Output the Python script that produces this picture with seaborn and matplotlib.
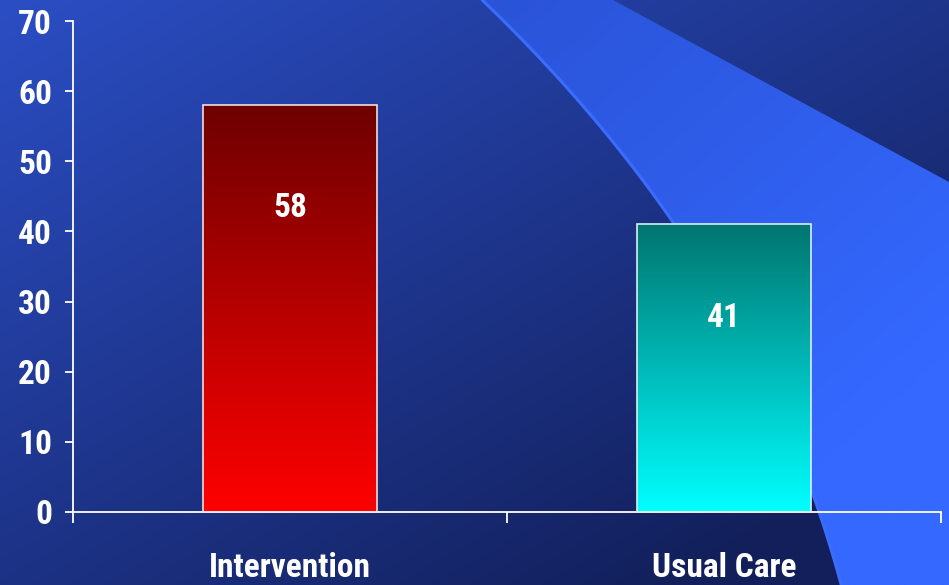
import numpy as np
import pandas as pd
import matplotlib
matplotlib.use("Agg")
import matplotlib.pyplot as plt
import seaborn as sns
from matplotlib.colors import LinearSegmentedColormap, to_rgb
from matplotlib.patches import Polygon
from matplotlib import font_manager

# ---- data ----
categories = ["Intervention", "Usual Care"]
values = [58, 41]
value_labels = ["58", "41"]
y_ticks = [0, 10, 20, 30, 40, 50, 60, 70]

sns.set_theme(style="white")
names = {f.name for f in font_manager.fontManager.ttflist}
fam = [f for f in ["Liberation Sans Narrow", "Roboto Condensed", "DejaVu Sans Condensed", "Liberation Sans", "DejaVu Sans"] if f in names]
plt.rcParams["font.family"] = fam

W, H = 949, 585
fig = plt.figure(figsize=(W / 100, H / 100), dpi=100)

# ---- background ----
bg = fig.add_axes([0, 0, 1, 1], zorder=0)
bg.set_xlim(0, W)
bg.set_ylim(H, 0)
bg.axis("off")
xx, yy = np.meshgrid(np.linspace(0, 1, 200), np.linspace(0, 1, 200))
t = np.clip(0.55 * xx + 0.6 * yy, 0, 1)
c0, c1 = np.array(to_rgb("#2b4ec4")), np.array(to_rgb("#121f5a"))
img = c0[None, None, :] * (1 - t[..., None]) + c1[None, None, :] * t[..., None]
bg.imshow(img, extent=[0, W, H, 0], aspect="auto", zorder=0)

# smooth decorative curve
ky = np.array([0, 100, 167, 223, 493, 585])
kx = np.array([482, 578, 634, 672, 813, 841])
coef = np.polyfit(ky, kx, 3)
cy = np.linspace(0, H, 120)
cx = np.polyval(coef, cy)
curve = list(zip(cx, cy))
wedge_pts = curve + [(W, 585), (W, 182), (613, 0)]
wedge = Polygon(wedge_pts, closed=True, facecolor="none", edgecolor="none")
bg.add_patch(wedge)
t2 = np.clip(0.7 * xx + 0.5 * yy, 0, 1)
w0, w1 = np.array(to_rgb("#2548c0")), np.array(to_rgb("#3468ff"))
img2 = w0[None, None, :] * (1 - t2[..., None]) + w1[None, None, :] * t2[..., None]
im2 = bg.imshow(img2, extent=[0, W, H, 0], aspect="auto", zorder=1)
im2.set_clip_path(wedge)
bg.plot(cx, cy, color="#3a6cff", lw=2.2, zorder=2)

# ---- main axes ----
ax = fig.add_axes([73 / W, 1 - 512 / H, (941 - 73) / W, (512 - 21) / H], zorder=1)
ax.patch.set_alpha(0)
df = pd.DataFrame({"group": categories, "value": values})
sns.barplot(data=df, x="group", y="value", ax=ax, width=0.4, color="red",
            saturation=1, edgecolor="none")

grads = [("#6e0000", "#ff0000"), ("#007570", "#00ffff")]
for patch, (top, bot), lab, v in zip(ax.patches, grads, value_labels, values):
    x0, y0 = patch.get_x(), patch.get_y()
    w, h = patch.get_width(), patch.get_height()
    cmap = LinearSegmentedColormap.from_list("g", [bot, top])
    grad = np.linspace(0, 1, 256).reshape(-1, 1)
    im = ax.imshow(grad, cmap=cmap, extent=[x0, x0 + w, y0, y0 + h],
                   origin="lower", aspect="auto", zorder=2)
    im.set_clip_path(patch)
    patch.set_facecolor("none")
    patch.set_edgecolor("#f2dede" if top.startswith("#6e") else "#d8f0f0")
    patch.set_linewidth(1.2)
    patch.set_zorder(3)
    ax.text(x0 + w / 2, 0.92 * v - 10.0, lab, ha="center", va="center",
            color="white", fontsize=24, fontweight="bold", zorder=4)

ax.set_xlim(-0.5, 1.5)
ax.set_ylim(0, 70)
ax.set_yticks(y_ticks)
ax.set_yticklabels([str(v) for v in y_ticks])
ax.set_xticks([-0.5, 0.5, 1.5])
ax.set_xticklabels(["", "", ""])
ax.set_xticks([0, 1], minor=True)
ax.set_xticklabels(categories, minor=True)
ax.set_xlabel("")
ax.set_ylabel("")
for s in ["top", "right"]:
    ax.spines[s].set_visible(False)
for s in ["left", "bottom"]:
    ax.spines[s].set_color("white")
    ax.spines[s].set_linewidth(1.3)
ax.tick_params(axis="y", which="major", direction="out", length=6, width=1.3,
               color="white", labelcolor="white", labelsize=24, pad=9, left=True)
ax.tick_params(axis="x", which="major", direction="out", length=8, width=1.3,
               color="white", bottom=True)
ax.tick_params(axis="x", which="minor", length=0, labelcolor="white",
               labelsize=24, pad=29)
for lbl in ax.get_yticklabels() + ax.get_xticklabels(minor=True):
    lbl.set_fontweight("bold")

fig.savefig("out.png", dpi=100)
